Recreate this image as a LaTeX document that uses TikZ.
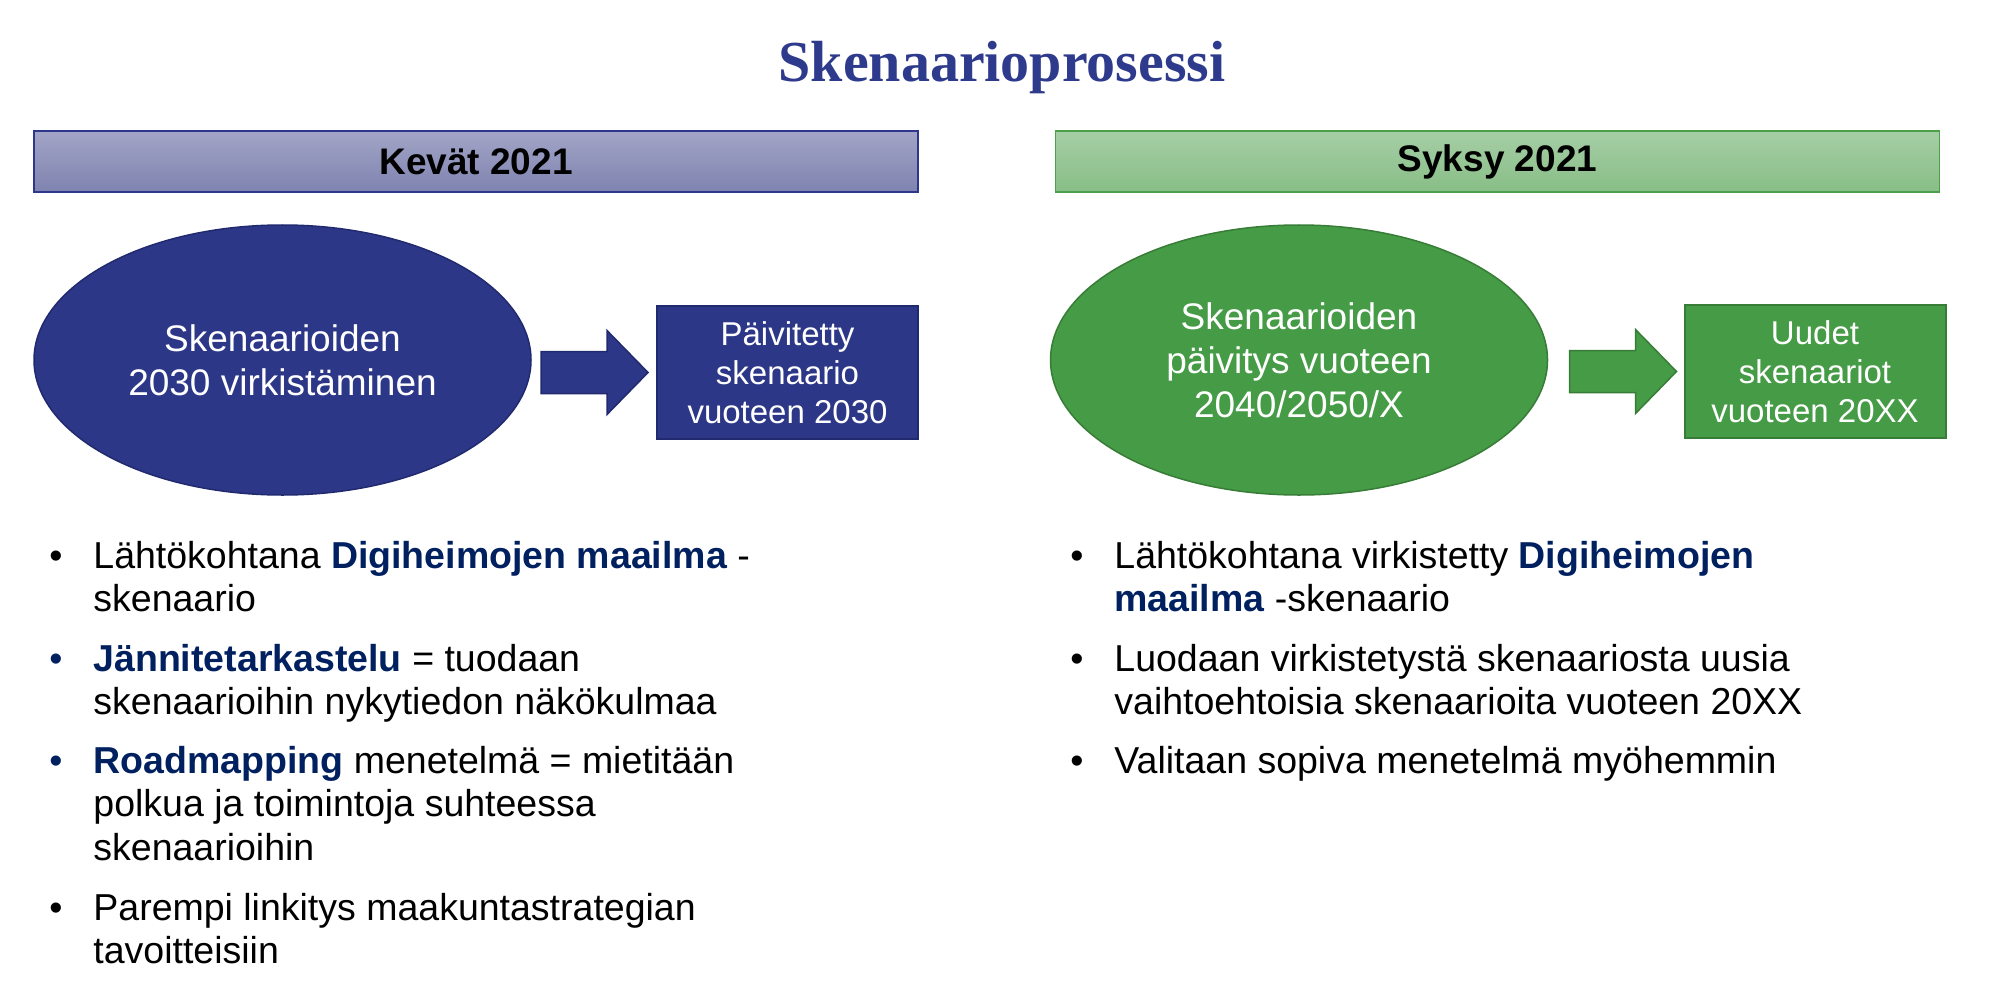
\documentclass[tikz,border=0pt]{standalone}
\usepackage{fontspec}
\setmainfont{Liberation Sans}
\newfontfamily\titlefont{Liberation Serif}
\usetikzlibrary{shapes.geometric,calc}

\definecolor{navyfill}{RGB}{45,55,135}
\definecolor{navyline}{RGB}{33,42,110}
\definecolor{greenfill}{RGB}{70,155,70}
\definecolor{greenline}{RGB}{55,125,55}
\definecolor{titleblue}{RGB}{46,58,140}
\definecolor{boldblue}{RGB}{0,32,96}
\definecolor{lavtop}{RGB}{162,165,198}
\definecolor{lavbot}{RGB}{127,131,176}
\definecolor{lavline}{RGB}{46,55,140}
\definecolor{mintop}{RGB}{166,206,166}
\definecolor{minbot}{RGB}{136,190,134}
\definecolor{minline}{RGB}{76,160,76}

\newcommand{\hl}[1]{\textbf{\textcolor{boldblue}{#1}}}
\newcommand{\bitem}[2][black]{\begin{tabular}[t]{@{}p{22pt}@{}l@{}}\textcolor{#1}{\textbullet}&#2\end{tabular}}
\newcommand{\blockarrow}[3]{%
  \draw [fill=#2, draw=#3, line width=0.75pt] (#1) -- ++(0,-21) -- ++(66,0) -- ++(0,-21) -- ++(41,42) -- ++(-41,42) -- ++(0,-21) -- ++(-66,0) -- cycle ;}

\tikzset{
  season/.style={draw, line width=0.75pt, minimum width=442pt, minimum height=30.5pt, inner sep=0pt, font=\fontsize{18.5}{22}\selectfont\bfseries},
  blob/.style={ellipse, draw, line width=0.75pt, minimum width=248.5pt, minimum height=135pt, inner sep=0pt, text=white, align=center, font=\fontsize{18.5}{22}\selectfont},
  result/.style={draw, line width=1pt, minimum width=130.5pt, minimum height=66.5pt, inner sep=0pt, text=white, align=center, font=\fontsize{16.5}{19.5}\selectfont},
  bullets/.style={anchor=base west, inner sep=0pt, font=\fontsize{18.75}{21.75}\selectfont},
}

\begin{document}
\begin{tikzpicture}[x=0.5pt,y=-0.5pt]
\useasboundingbox (0,0) rectangle (2000,1000);

% Title
\node (title) [anchor=base, text=titleblue, font=\titlefont\bfseries\fontsize{29}{34}\selectfont] at (1002,82) {Skenaarioprosessi};

%Shape: Rectangle (headers)
\node (spring) [season, draw=lavline, top color=lavtop, bottom color=lavbot] at (476,161.5) {Kevät 2021};
\node (autumn) [season, draw=minline, top color=mintop, bottom color=minbot] at (1497.5,161.5) {Syksy 2021};

%Shape: Ellipse
\node (ellL) [blob, fill=navyfill, draw=navyline] at (282.5,360) {Skenaarioiden\\2030 virkistäminen};
\node (ellR) [blob, fill=greenfill, draw=greenline] at (1299,360) {Skenaarioiden\\päivitys vuoteen\\2040/2050/X};

%Shape: Rectangle (results)
\node (boxL) [result, fill=navyfill, draw=navyline] at (787.5,372.5) {Päivitetty\\skenaario\\vuoteen 2030};
\node (boxR) [result, fill=greenfill, draw=greenline] at (1815,371.5) {Uudet\\skenaariot\\vuoteen 20XX};

%Shape: Right Arrow
\coordinate (arrL) at ($(boxL.west)+(-115,0)$);
\coordinate (arrR) at ($(boxR.west)+(-114,0)$);
\blockarrow{arrL}{navyfill}{navyline}
\blockarrow{arrR}{greenfill}{greenline}

% Text Node (left list)
\node (l1) [bullets] at (49,568) {\bitem{Lähtökohtana \hl{Digiheimojen maailma} -\\ & skenaario}};
\node (l2) [bullets] at (49,671) {\bitem[boldblue]{\hl{Jännitetarkastelu} = tuodaan\\ & skenaarioihin nykytiedon näkökulmaa}};
\node (l3) [bullets] at (49,773) {\bitem[boldblue]{\hl{Roadmapping} menetelmä = mietitään\\ & polkua ja toimintoja suhteessa\\ & skenaarioihin}};
\node (l4) [bullets] at (49,920) {\bitem{Parempi linkitys maakuntastrategian\\ & tavoitteisiin}};

% Text Node (right list)
\node (r1) [bullets] at (1070,568) {\bitem{Lähtökohtana virkistetty \hl{Digiheimojen}\\ & \hl{maailma} -skenaario}};
\node (r2) [bullets] at (1070,671) {\bitem{Luodaan virkistetystä skenaariosta uusia\\ & vaihtoehtoisia skenaarioita vuoteen 20XX}};
\node (r3) [bullets] at (1070,773) {\bitem{Valitaan sopiva menetelmä myöhemmin}};

\end{tikzpicture}
\end{document}
